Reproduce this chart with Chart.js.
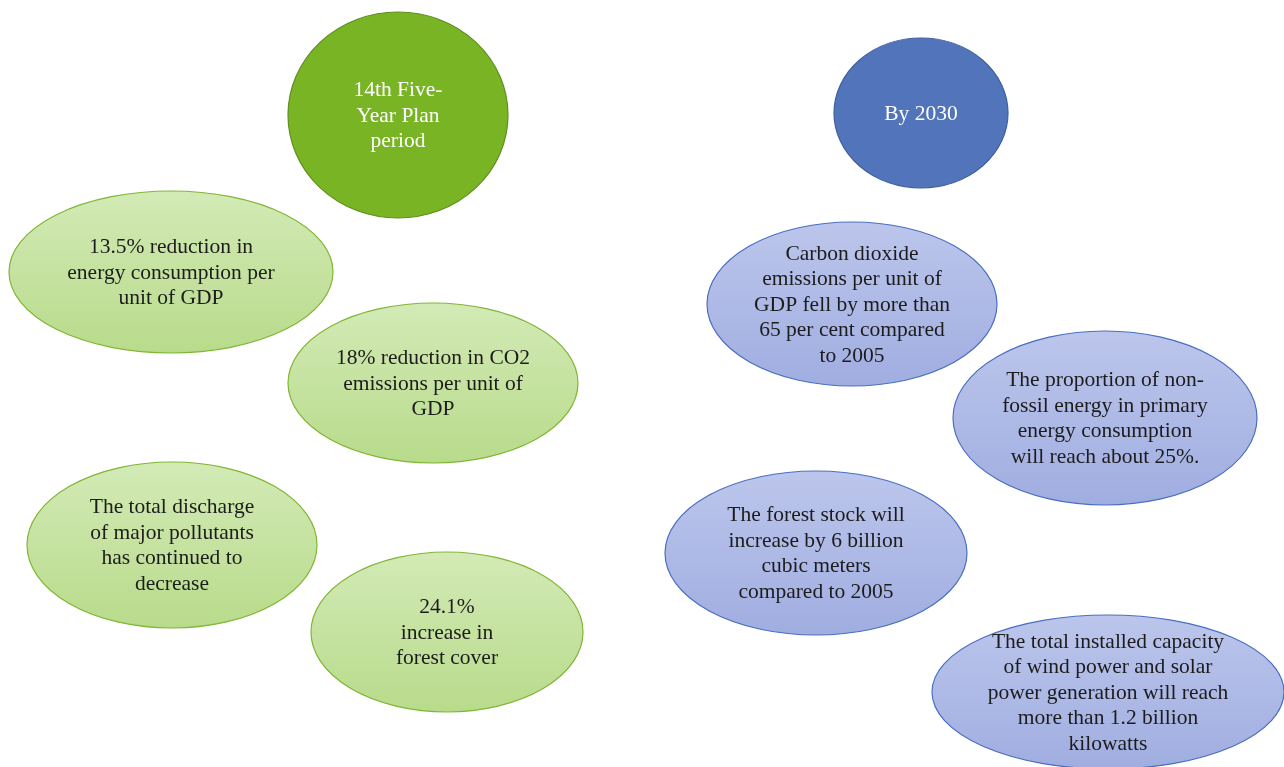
<!DOCTYPE html>
<html>
<head>
<meta charset="utf-8">
<script src="https://cdn.jsdelivr.net/npm/chart.js@4.4.0/dist/chart.umd.min.js"></script>
<style>
  html,body{margin:0;padding:0;background:#fff;}
  #wrap{width:1284px;height:767px;}
</style>
</head>
<body>
<div id="wrap"><canvas id="chart"></canvas></div>
<script>
// Shapes of the diagram: text, centre and half-axes (in diagram units)
const labels = [
  "14th Five-\nYear Plan\nperiod",
  "13.5% reduction in\nenergy consumption per\nunit of GDP",
  "18% reduction in CO2\nemissions per unit of\nGDP",
  "The total discharge\nof major pollutants\nhas continued to\ndecrease",
  "24.1%\nincrease in\nforest cover",
  "By 2030",
  "Carbon dioxide\nemissions per unit of\nGDP fell by more than\n65 per cent compared\nto 2005",
  "The proportion of non-\nfossil energy in primary\nenergy consumption\nwill reach about 25%.",
  "The forest stock will\nincrease by 6 billion\ncubic meters\ncompared to 2005",
  "The total installed capacity\nof wind power and solar\npower generation will reach\nmore than 1.2 billion\nkilowatts"
];
const centerX = [398, 171, 433, 172, 447, 921, 852, 1105, 816, 1108];
const centerY = [115, 272, 383, 545, 632, 113, 304, 418, 553, 692];
const radiusX = [110, 162, 145, 145, 136, 87, 145, 152, 151, 176];
const radiusY = [103, 81, 80, 83, 80, 75, 82, 87, 82, 77];
const kind = ["greenHead","green","green","green","green","blueHead","blue","blue","blue","blue"];

const styles = {
  greenHead: {fill:["#78b424","#78b424"], stroke:"#5f8f1e", text:"#ffffff"},
  green: {fill:["#d3eab6","#b8db8b"], stroke:"#80b634", text:"#1c1c1c"},
  blueHead: {fill:["#5274ba","#5274ba"], stroke:"#3f5f9f", text:"#ffffff"},
  blue: {fill:["#bcc6ec","#a0ade0"], stroke:"#4a6fc0", text:"#1c1c1c"}
};

const ellipsePlugin = {
  id: "ellipses",
  afterDatasetsDraw(chart) {
    const ctx = chart.ctx;
    const xs = chart.scales.x, ys = chart.scales.y;
    labels.forEach((t, i) => {
      const cx = xs.getPixelForValue(centerX[i]);
      const cy = ys.getPixelForValue(centerY[i]);
      const rx = Math.abs(xs.getPixelForValue(centerX[i] + radiusX[i]) - cx);
      const ry = Math.abs(ys.getPixelForValue(centerY[i] + radiusY[i]) - cy);
      const st = styles[kind[i]];
      ctx.save();
      const g = ctx.createLinearGradient(0, cy - ry, 0, cy + ry);
      g.addColorStop(0, st.fill[0]);
      g.addColorStop(1, st.fill[1]);
      ctx.beginPath();
      ctx.ellipse(cx, cy, rx, ry, 0, 0, Math.PI * 2);
      ctx.fillStyle = g;
      ctx.fill();
      ctx.lineWidth = 1.2;
      ctx.strokeStyle = st.stroke;
      ctx.stroke();
      ctx.fillStyle = st.text;
      ctx.font = '21.5px "Liberation Serif", "DejaVu Serif", serif';
      ctx.textAlign = "center";
      ctx.textBaseline = "middle";
      const lines = t.split("\n");
      const lh = 25.5;
      lines.forEach((ln, k) => {
        ctx.fillText(ln, cx, cy + 1 + (k - (lines.length - 1) / 2) * lh);
      });
      ctx.restore();
    });
  }
};

new Chart(document.getElementById("chart"), {
  type: "scatter",
  data: {
    datasets: [{
      data: centerX.map((x, i) => ({x: x, y: centerY[i]})),
      pointRadius: 0,
      pointHoverRadius: 0
    }]
  },
  options: {
    responsive: true,
    maintainAspectRatio: false,
    animation: false,
    events: [],
    layout: {padding: 0},
    plugins: {legend: {display: false}, tooltip: {enabled: false}},
    scales: {
      x: {type: "linear", min: 0, max: 1284, display: false},
      y: {type: "linear", min: 0, max: 767, reverse: true, display: false}
    }
  },
  plugins: [ellipsePlugin]
});
</script>
</body>
</html>
